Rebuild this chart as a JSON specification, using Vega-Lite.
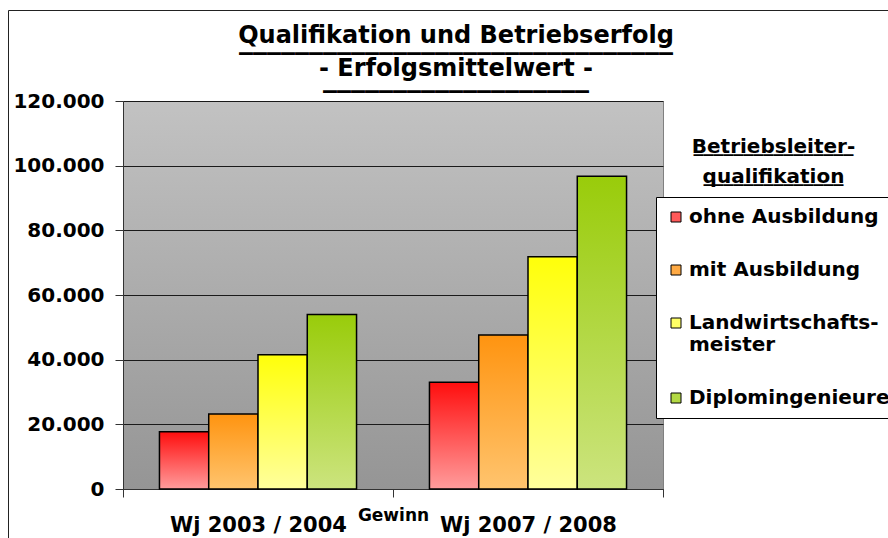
{
  "$schema": "https://vega.github.io/schema/vega-lite/v6.json",
  "autosize": "none",
  "width": 540,
  "height": 388,
  "padding": {"left": 123, "top": 101, "right": 225, "bottom": 49},
  "background": "white",
  "view": {
    "fill": {"gradient": "linear", "x1": 0, "y1": 0, "x2": 0, "y2": 1, "stops": [{"offset": 0, "color": "#c2c2c2"}, {"offset": 1, "color": "#959595"}]},
    "stroke": "#808080",
    "strokeWidth": 1
  },
  "title": {
    "text": ["Qualifikation und Betriebserfolg", "- Erfolgsmittelwert -"],
    "font": "DejaVu Sans",
    "fontSize": 24,
    "fontWeight": "bold",
    "color": "black",
    "anchor": "middle",
    "dx": 63,
    "lineHeight": 33,
    "offset": -82,
    "subtitle": ["_______________________________", "___________________"],
    "subtitleFont": "DejaVu Sans",
    "subtitleFontSize": 28,
    "subtitleFontWeight": "bold",
    "subtitleColor": "black",
    "subtitleLineHeight": 37.5,
    "subtitlePadding": -55
  },
  "data": {
    "values": [
      {"period": "Wj 2003 / 2004", "qual": "ohne Ausbildung", "value": 17700},
      {"period": "Wj 2003 / 2004", "qual": "mit Ausbildung", "value": 23200},
      {"period": "Wj 2003 / 2004", "qual": "Landwirtschaftsmeister", "value": 41500},
      {"period": "Wj 2003 / 2004", "qual": "Diplomingenieure", "value": 54000},
      {"period": "Wj 2007 / 2008", "qual": "ohne Ausbildung", "value": 33000},
      {"period": "Wj 2007 / 2008", "qual": "mit Ausbildung", "value": 47600},
      {"period": "Wj 2007 / 2008", "qual": "Landwirtschaftsmeister", "value": 71800},
      {"period": "Wj 2007 / 2008", "qual": "Diplomingenieure", "value": 96700}
    ]
  },
  "layer": [
    {
      "mark": {"type": "bar", "stroke": "black", "strokeWidth": 1.5},
      "encoding": {
        "x": {
          "field": "period", "type": "nominal", "sort": null,
          "scale": {"paddingInner": 0, "paddingOuter": 0},
          "title": "Gewinn",
          "axis": {
            "labelAngle": 0,
            "labelFont": "DejaVu Sans", "labelFontSize": 21, "labelFontWeight": "bold", "labelColor": "black",
            "labelPadding": 17,
            "tickBand": "extent", "tickSize": 8, "tickColor": "#333333",
            "domainColor": "#333333",
            "titleFont": "DejaVu Sans", "titleFontSize": 17, "titleFontWeight": "bold", "titleColor": "black",
            "titleY": 31, "titleBaseline": "alphabetic"
          }
        },
        "xOffset": {
          "field": "qual", "type": "nominal",
          "sort": ["ohne Ausbildung", "mit Ausbildung", "Landwirtschaftsmeister", "Diplomingenieure"],
          "scale": {"paddingInner": 0, "paddingOuter": 0.74}
        },
        "y": {
          "field": "value", "type": "quantitative",
          "scale": {"domain": [0, 120000], "nice": false},
          "axis": {
            "title": null,
            "values": [0, 20000, 40000, 60000, 80000, 100000, 120000],
            "labelExpr": "replace(format(datum.value, ','), ',', '.')",
            "labelFont": "DejaVu Sans", "labelFontSize": 20, "labelFontWeight": "bold", "labelColor": "black",
            "labelPadding": 11,
            "tickSize": 8, "tickColor": "#333333",
            "domainColor": "#333333",
            "grid": true, "gridColor": "#1a1a1a", "gridWidth": 1
          }
        },
        "fill": {
          "field": "qual", "type": "nominal",
          "scale": {
            "domain": ["ohne Ausbildung", "mit Ausbildung", "Landwirtschaftsmeister", "Diplomingenieure"],
            "range": ["#ff5a5a", "#ffaa44", "#ffff66", "#b3d944"]
          },
          "legend": {
            "orient": "none", "legendX": 533, "legendY": 96,
            "title": null,
            "fillColor": "white", "strokeColor": "black",
            "padding": 10,
            "symbolType": "square", "symbolSize": 100,
            "symbolStrokeColor": "black", "symbolStrokeWidth": 1,
            "labelFont": "DejaVu Sans", "labelFontSize": 20, "labelFontWeight": "bold", "labelColor": "black",
            "labelOffset": 3, "labelLimit": 400,
            "labelLineHeight": 19,
            "rowPadding": 33,
            "labelExpr": "datum.label == 'Landwirtschaftsmeister' ? ['Landwirtschafts-', 'meister'] : datum.label"
          },
          "condition": [
            {"test": "datum.qual === 'ohne Ausbildung'", "value": {"gradient": "linear", "x1": 0, "y1": 0, "x2": 0, "y2": 1, "stops": [{"offset": 0, "color": "#ff0e0e"}, {"offset": 1, "color": "#ff9c9c"}]}},
            {"test": "datum.qual === 'mit Ausbildung'", "value": {"gradient": "linear", "x1": 0, "y1": 0, "x2": 0, "y2": 1, "stops": [{"offset": 0, "color": "#ff9410"}, {"offset": 1, "color": "#ffc46e"}]}},
            {"test": "datum.qual === 'Landwirtschaftsmeister'", "value": {"gradient": "linear", "x1": 0, "y1": 0, "x2": 0, "y2": 1, "stops": [{"offset": 0, "color": "#ffff0a"}, {"offset": 1, "color": "#ffff9c"}]}},
            {"test": "datum.qual === 'Diplomingenieure'", "value": {"gradient": "linear", "x1": 0, "y1": 0, "x2": 0, "y2": 1, "stops": [{"offset": 0, "color": "#99cc0a"}, {"offset": 1, "color": "#cce47e"}]}}
          ]
        }
      }
    },
    {
      "mark": {"type": "bar", "opacity": 0},
      "encoding": {
        "x": {"field": "period", "type": "nominal", "sort": null},
        "xOffset": {
          "field": "qual", "type": "nominal",
          "sort": ["ohne Ausbildung", "mit Ausbildung", "Landwirtschaftsmeister", "Diplomingenieure"]
        },
        "y": {
          "field": "value", "type": "quantitative",
          "scale": {"domain": [0, 120000], "nice": false},
          "axis": {
            "orient": "right",
            "labels": false, "ticks": false, "domain": false, "grid": false,
            "title": ["Betriebsleiter-", "qualifikation"],
            "titleAngle": 0, "titleX": 110, "titleY": 51,
            "titleAlign": "center", "titleBaseline": "alphabetic",
            "titleFont": "DejaVu Sans", "titleFontSize": 20, "titleFontWeight": "bold", "titleColor": "black",
            "titleLineHeight": 30
          }
        }
      }
    },
    {
      "mark": {"type": "bar", "opacity": 0},
      "encoding": {
        "x": {"field": "period", "type": "nominal", "sort": null},
        "xOffset": {
          "field": "qual", "type": "nominal",
          "sort": ["ohne Ausbildung", "mit Ausbildung", "Landwirtschaftsmeister", "Diplomingenieure"]
        },
        "y": {
          "field": "value", "type": "quantitative",
          "scale": {"domain": [0, 120000], "nice": false},
          "axis": {
            "orient": "right",
            "labels": false, "ticks": false, "domain": false, "grid": false,
            "title": ["________________", "______________"],
            "titleAngle": 0, "titleX": 110, "titleY": 49,
            "titleAlign": "center", "titleBaseline": "alphabetic",
            "titleFont": "DejaVu Sans", "titleFontSize": 20, "titleFontWeight": "bold", "titleColor": "black",
            "titleLineHeight": 30
          }
        },
        "color": {
          "field": "value", "type": "quantitative",
          "legend": {
            "orient": "none", "legendX": -115, "legendY": -91,
            "title": null,
            "direction": "horizontal",
            "gradientLength": 1000, "gradientThickness": 600,
            "gradientOpacity": 0, "gradientStrokeWidth": 0,
            "labelExpr": "''",
            "labelOpacity": 0,
            "padding": 0,
            "fillColor": null,
            "strokeColor": "#222222"
          }
        }
      }
    }
  ],
  "resolve": {"scale": {"y": "independent"}, "axis": {"y": "independent"}}
}
